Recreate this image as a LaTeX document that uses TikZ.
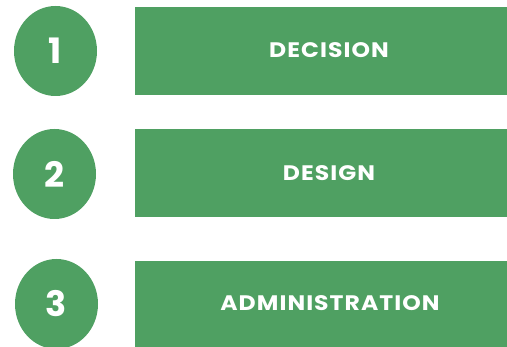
\documentclass[tikz,border=0pt]{standalone}
\usepackage{fontspec}
\setmainfont{Poppins}
\newfontfamily\labelfont[LetterSpace=5,FakeStretch=1.12]{Poppins}
\usetikzlibrary{shapes.geometric}
\definecolor{stepgreen}{RGB}{79,160,98}
\tikzset{
  numdisc/.style={ellipse, fill=stepgreen, minimum width=83pt, minimum height=90pt, inner sep=0pt,
    text=white, font=\fontsize{35}{35}\selectfont\bfseries},
  stepbar/.style={rectangle, fill=stepgreen, inner sep=0pt},
  steplabel/.style={text=white, font=\labelfont\fontsize{21}{21}\selectfont\bfseries, inner sep=0pt}
}
\begin{document}
\begin{tikzpicture}[x=1pt,y=1pt]
\useasboundingbox (0,0) rectangle (507,347);
\clip (0,0) rectangle (507,347);
\node[numdisc] (c1) at (55.5,296) {1};
\node[numdisc] (c2) at (54.5,173) {2};
\node[numdisc] (c3) at (56.5,43) {3};
\node[stepbar, minimum width=372pt, minimum height=88pt] (r1) at (321,296) {};
\node[stepbar, minimum width=372pt, minimum height=88pt] (r2) at (321,174) {};
\node[stepbar, minimum width=372pt, minimum height=86pt] (r3) at (321,43) {};
\node[steplabel] (t1) at (329,297) {DECISION};
\node[steplabel] (t2) at (329,174) {DESIGN};
\node[steplabel] (t3) at (330,44) {ADMINISTRATION};
\end{tikzpicture}
\end{document}
